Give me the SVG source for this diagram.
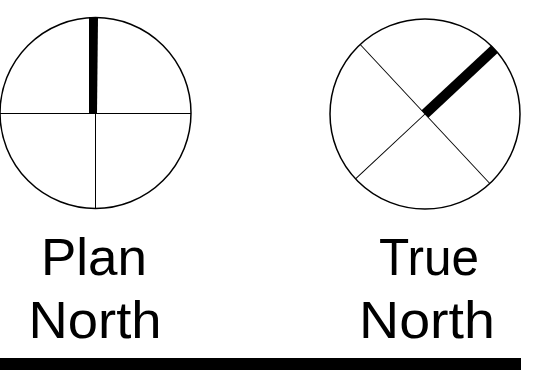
<svg xmlns="http://www.w3.org/2000/svg" width="558" height="374" viewBox="0 0 558 374">
<style>
.ring{fill:none;stroke:#000;stroke-width:1.5}
.thin{stroke:#000;stroke-width:1;fill:none}
.needle{fill:#000}
.lbl{font-family:"Liberation Sans",Arial,sans-serif;font-size:52px;fill:#000;text-anchor:middle}
</style>
<rect width="558" height="374" fill="#fff"/>
<g id="plan-north">
<circle class="ring" cx="95.5" cy="113" r="95.5"/>
<line class="thin" x1="0" y1="113.5" x2="191" y2="113.5"/>
<line class="thin" x1="95.5" y1="113" x2="95.5" y2="208.5"/>
<polygon class="needle" points="89,17 98,17 97,113.5 89,113.5"/>
<text class="lbl" x="94" y="275" textLength="106" lengthAdjust="spacingAndGlyphs">Plan</text>
<text class="lbl" x="95" y="338" textLength="133" lengthAdjust="spacingAndGlyphs">North</text>
</g>
<g id="true-north">
<circle class="ring" cx="425" cy="114" r="95"/>
<g transform="rotate(47 425 114)">
<line class="thin" x1="330" y1="114" x2="520" y2="114"/>
<line class="thin" x1="425" y1="114" x2="425" y2="209"/>
<rect class="needle" x="420" y="19" width="10" height="95"/>
</g>
<text class="lbl" x="429" y="275" textLength="100" lengthAdjust="spacingAndGlyphs">True</text>
<text class="lbl" x="427" y="338" textLength="136" lengthAdjust="spacingAndGlyphs">North</text>
</g>
<g id="baseline">
<rect x="0" y="358" width="521" height="12" fill="#000"/>
</g>
</svg>
